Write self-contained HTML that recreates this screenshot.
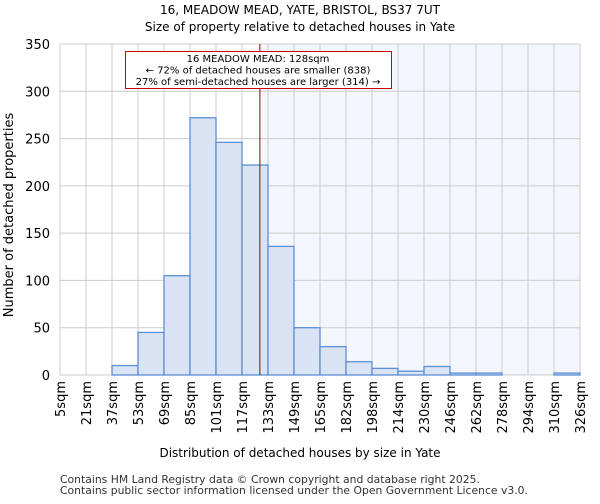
<!DOCTYPE html>
<html><head><meta charset="utf-8"><style>body{margin:0;background:#fff;font-family:"DejaVu Sans","Liberation Sans",sans-serif}</style></head>
<body>
<svg id="c" width="600" height="500" xmlns="http://www.w3.org/2000/svg" font-family="DejaVu Sans, Liberation Sans, sans-serif">
<text x="300" y="14" text-anchor="middle" font-size="12">16, MEADOW MEAD, YATE, BRISTOL, BS37 7UT</text>
<text x="300" y="31" text-anchor="middle" font-size="12">Size of property relative to detached houses in Yate</text>
<g id="plot"></g>
<text x="300" y="457" text-anchor="middle" font-size="12">Distribution of detached houses by size in Yate</text>
<text transform="translate(13,215) rotate(-90)" text-anchor="middle" font-size="13">Number of detached properties</text>
<text x="60" y="483" font-size="10.8" fill="#333">Contains HM Land Registry data © Crown copyright and database right 2025.</text>
<text x="60" y="494" font-size="10.8" fill="#333">Contains public sector information licensed under the Open Government Licence v3.0.</text>
</svg>
<script>
const edgeLabels=["5sqm","21sqm","37sqm","53sqm","69sqm","85sqm","101sqm","117sqm","133sqm","149sqm","165sqm","182sqm","198sqm","214sqm","230sqm","246sqm","262sqm","278sqm","294sqm","310sqm","326sqm"];
const counts=[0,0,10,45,105,272,246,222,136,50,30,14,7,4,9,2,2,0,0,2];
const yTicks=[0,50,100,150,200,250,300,350];
const propertySize=128;
const edgeValues=[5,21,37,53,69,85,101,117,133,149,165,182,198,214,230,246,262,278,294,310,326];
const NS="http://www.w3.org/2000/svg";
const L=60,R=580,T=44,B=375,yMax=350;
const n=counts.length,bw=(R-L)/n;
const xi=i=>L+i*bw;
const y=v=>B-v/yMax*(B-T);
function xv(v){for(let i=0;i<edgeValues.length-1;i++){if(v<=edgeValues[i+1])return xi(i)+(v-edgeValues[i])/(edgeValues[i+1]-edgeValues[i])*bw;}return R;}
const g=document.getElementById('plot');
function mk(t,a,p){const e=document.createElementNS(NS,t);for(const k in a)e.setAttribute(k,a[k]);(p||g).appendChild(e);return e;}
const px=xv(propertySize);
let sh=mk('rect',{x:px,y:T,width:R-px,height:B-T,fill:'#f3f6fd'});


for(let i=0;i<=n;i++){let l=mk('line',{x1:xi(i),x2:xi(i),y1:T,y2:B,stroke:'#ccc','stroke-width':1});

}
yTicks.forEach(v=>{let l=mk('line',{x1:L,x2:R,y1:y(v),y2:y(v),stroke:'#ccc','stroke-width':1});


let t=mk('text',{x:L-10,y:y(v)+5,'text-anchor':'end','font-size':13});t.textContent=v;

});
counts.forEach((c,i)=>{if(c<=0)return;let r=mk('rect',{x:xi(i),y:y(c),width:bw,height:B-y(c),fill:'#dae3f3',stroke:'#5b8fd6','stroke-width':1.3});

});
edgeLabels.forEach((s,i)=>{let t=mk('text',{transform:`translate(${xi(i)+5},381) rotate(-90)`,'text-anchor':'end','font-size':13});t.textContent=s;

});
let pl=mk('line',{x1:px,x2:px,y1:T,y2:B,stroke:'#900','stroke-width':1});


let bx=mk('rect',{x:125.5,y:51.5,width:266,height:37,fill:'#fff',stroke:'#c00','stroke-width':1});


["16 MEADOW MEAD: 128sqm","← 72% of detached houses are smaller (838)","27% of semi-detached houses are larger (314) →"].forEach((s,i)=>{let t=mk('text',{x:258,y:62+i*11.5,'text-anchor':'middle','font-size':10});t.textContent=s;

});
</script>
</body></html>
